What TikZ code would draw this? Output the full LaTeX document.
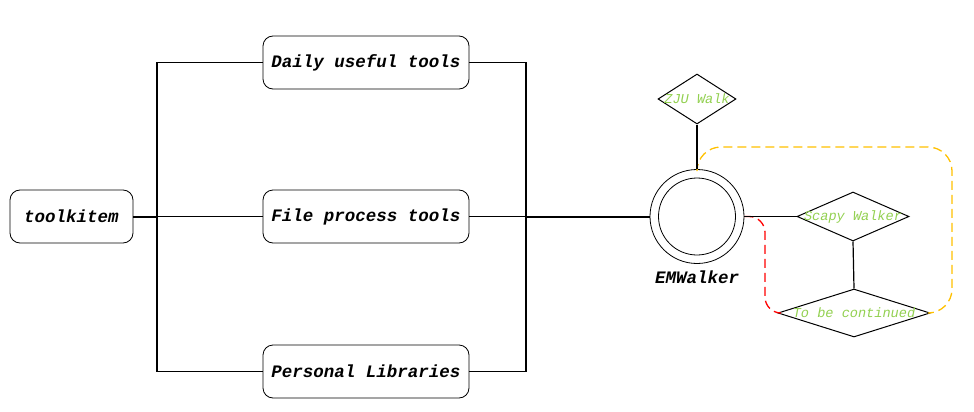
\documentclass[tikz,border=0pt]{standalone}
\usepackage{fontspec}
\setmonofont{Liberation Mono}
\usepackage{xcolor}
\usetikzlibrary{shapes.geometric}

\definecolor{walkgreen}{RGB}{146,208,80}
\definecolor{loopgold}{RGB}{255,192,0}

\tikzset{
  toolbox/.style={draw, line width=0.8pt, rounded corners=10pt, minimum height=53pt, inner sep=0pt,
    font=\fontsize{17.5}{20}\selectfont\ttfamily\bfseries\itshape},
  walkstep/.style={draw, diamond, inner sep=0pt, line width=1pt, text=walkgreen,
    font=\fontsize{13.6}{15}\selectfont\ttfamily\itshape},
  busline/.style={line width=1.2pt},
  trunk/.style={line width=2pt},
  loopline/.style={line width=1.3pt, dash pattern=on 9pt off 5pt, rounded corners=24pt},
}

\begin{document}
\begin{tikzpicture}[x=1pt, y=-1pt]
\useasboundingbox (0,0) rectangle (974,412);

\node[toolbox, minimum width=123pt] (toolkit) at (71.5,216.5) {toolkitem};
\node[toolbox, minimum width=206pt] (daily) at (366,62.5) {Daily useful tools};
\node[toolbox, minimum width=206pt] (fileproc) at (366,216.5) {File process tools};
\node[toolbox, minimum width=206pt] (personal) at (366,371.5) {Personal Libraries};

\coordinate (lbustop) at (157,62.5);
\coordinate (lbusbot) at (157,371.5);
\coordinate (rbustop) at (526,62.5);
\coordinate (rbusbot) at (526,371.5);

\node[draw, line width=0.8pt, circle, minimum size=94pt, inner sep=0pt] (em) at (697,216.5) {};
\node[draw, line width=0.8pt, circle, minimum size=77pt, inner sep=0pt] (emcore) at (em) {};
\node[font=\fontsize{17.5}{20}\selectfont\ttfamily\bfseries\itshape] (emname) at (697,277) {EMWalker};

\node[walkstep, minimum width=78pt, minimum height=50pt] (zju) at (697,99) {\makebox[0pt]{ZJU Walk}};
\node[walkstep, minimum width=112pt, minimum height=49pt] (scapy) at (853,216.5) {\makebox[0pt]{Scapy Walker}};
\node[walkstep, minimum width=152pt, minimum height=48pt] (tbc) at (854,313) {\makebox[0pt]{To be continued}};

% bus on the left
\draw[trunk] (toolkit.east) -- (toolkit.east -| lbustop);
\draw[busline] (lbustop) -- (lbusbot);
\draw[busline] (lbustop) -- (daily.west);
\draw[busline] (toolkit.east -| lbustop) -- (fileproc.west);
\draw[busline] (lbusbot) -- (personal.west);

% bus on the right
\draw[busline] (rbustop) -- (rbusbot);
\draw[busline] (daily.east) -- (rbustop);
\draw[busline] (fileproc.east) -- (fileproc.east -| rbustop);
\draw[busline] (personal.east) -- (rbusbot);
\draw[trunk] (fileproc.east -| rbustop) -- (em.west);

% walkers
\draw[loopline, red, rounded corners=16pt] (em.east) -- (765,216.5) -- (765,313) -- (tbc.west);
\draw[loopline, loopgold] (em.north) -- (697,147) -- (952,147) -- (952,313) -- (tbc.east);
\draw[busline] (zju.south) -- (em.north);
\draw[busline] (em.east) -- (scapy.west);
\draw[busline] (scapy.south) -- (tbc.north);

\end{tikzpicture}
\end{document}
